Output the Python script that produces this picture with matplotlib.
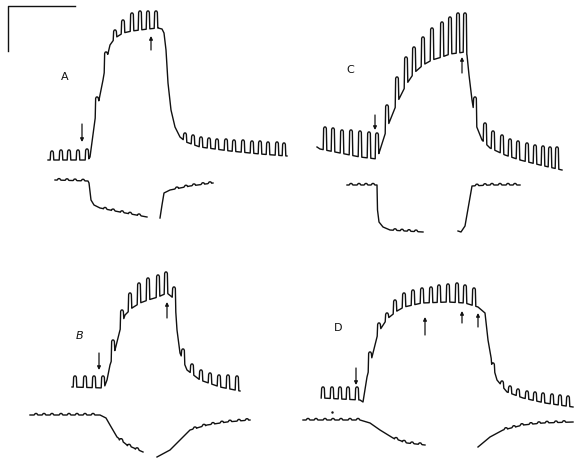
import numpy as np
import matplotlib
matplotlib.use("Agg")
import matplotlib.pyplot as plt

# ---------------- data (pixel units, y downwards) ----------------
# Panel A, upper trace
A_base_x = [48, 88, 90, 93, 96, 99, 103, 106, 110, 115, 123, 132, 140, 148, 158, 162, 164, 166, 168, 171, 175, 180, 186, 200, 230, 260, 287]
A_base_y = [160, 160, 157, 135, 112, 100, 80, 62, 45, 38, 33, 31, 30, 29, 28, 29, 33, 50, 83, 110, 127, 137, 142, 147, 151, 154, 156]
A_spk_x = [52, 61, 69, 78, 87, 97, 106, 115, 123, 132, 140, 148, 156,
           185, 193, 201, 209, 217, 226, 234, 243, 252, 260, 268, 277, 284]
A_spk_y = [151, 150, 150, 150, 149, 97, 52, 30, 20, 13, 11, 11, 11,
           133, 135, 137, 138, 139, 139, 140, 140, 141, 141, 142, 142, 143]
# Panel A, lower trace (two pieces)
A_low1_x = [55, 88, 89, 91, 94, 100, 120, 147]
A_low1_y = [180, 181, 183, 200, 205, 208, 212, 217]
A_low2_x = [160, 162, 164, 170, 190, 213]
A_low2_y = [218, 205, 193, 190, 186, 183]
A_rip_x = [59, 67, 75, 83, 105, 113, 122, 130, 139, 146, 177, 186, 194, 203, 210]

# Panel C, upper trace
C_base_x = [317, 320, 340, 360, 377, 380, 387, 397, 406, 414, 423, 432, 442, 450, 458, 465, 467, 469, 472, 476, 482, 490, 505, 520, 540, 562]
C_base_y = [147, 149, 153, 157, 159, 150, 128, 103, 85, 73, 65, 60, 57, 54, 53, 52, 55, 75, 100, 125, 140, 148, 155, 160, 165, 170]
C_spk_x = [325, 333, 342, 351, 360, 369, 377, 387, 397, 406, 414, 423, 432, 442, 450, 458, 465,
           475, 485, 493, 502, 510, 518, 527, 535, 543, 550, 557]
C_spk_y = [127, 128, 130, 130, 131, 132, 133, 105, 77, 57, 47, 37, 28, 22, 17, 13, 13,
           97, 123, 131, 135, 139, 141, 143, 145, 146, 147, 147]
C_low1_x = [347, 377, 377.5, 379, 383, 390, 405, 423]
C_low1_y = [185, 185, 210, 222, 227, 230, 231, 232]
C_low2_x = [458, 461, 465, 472, 490, 520]
C_low2_y = [231, 232, 226, 186, 185, 185]
C_rip_x = [351, 359, 366, 373, 395, 402, 409, 416, 477, 485, 492, 500, 508, 515]

# Panel B, upper trace
B_base_x = [72, 104, 107, 110, 115, 120, 125, 132, 140, 148, 158, 167, 172, 175, 177, 180, 187, 200, 220, 240]
B_base_y = [387, 388, 380, 365, 350, 330, 315, 308, 303, 300, 297, 293, 297, 300, 330, 353, 370, 380, 387, 391]
B_spk_x = [75, 85, 94, 103, 113, 122, 130, 139, 148, 158, 166, 174,
           183, 192, 201, 210, 219, 228, 237]
B_spk_y = [376, 376, 376, 376, 340, 310, 293, 283, 278, 275, 272, 287,
           349, 364, 370, 373, 375, 375, 376]
B_low1_x = [30, 100, 106, 110, 117, 127, 143]
B_low1_y = [415, 415, 418, 425, 437, 445, 452]
B_low2_x = [157, 170, 180, 190, 207, 227, 250]
B_low2_y = [457, 450, 440, 430, 425, 422, 420]
B_rip_x = [36, 44, 52, 61, 69, 77, 85, 93, 121, 129, 137, 195, 204, 213, 222, 230, 239, 247]

# Panel D, upper trace
D_base_x = [322, 360, 363, 367, 372, 378, 387, 397, 404, 422, 448, 465, 478, 485, 488, 492, 497, 507, 523, 545, 573]
D_base_y = [398, 400, 402, 377, 357, 333, 319, 311, 307, 303, 302, 303, 307, 313, 340, 363, 380, 392, 398, 403, 407]
D_spk_x = [323, 332, 340, 348, 357, 370, 379, 387, 395, 404, 413, 422, 431, 439, 448, 457, 465, 474,
           493, 502, 510, 518, 527, 535, 543, 552, 560, 568]
D_spk_y = [387, 387, 387, 387, 387, 352, 323, 313, 300, 293, 290, 288, 287, 285, 284, 283, 285, 288,
           363, 381, 386, 389, 391, 392, 393, 394, 395, 396]
D_low1_x = [303, 360, 370, 380, 393, 407, 425]
D_low1_y = [420, 420, 423, 430, 438, 443, 445]
D_low2_x = [478, 490, 503, 523, 543, 573]
D_low2_y = [447, 437, 430, 425, 423, 422]
D_rip_x = [308, 316, 325, 333, 341, 350, 358, 396, 404, 412, 420, 506, 514, 522, 531, 539, 547, 556, 564]

# arrows: (x, tail_y, head_y)
arrows_x = [82, 151, 375, 462, 99, 167, 356, 425, 462, 478]
arrows_tail = [124, 50, 115, 73, 353, 318, 368, 335, 323, 327]
arrows_head = [142, 36, 130, 57, 370, 302, 385, 317, 311, 313]

# panel labels
labels = ["A", "C", "B", "D"]
labels_x = [65, 350, 80, 338]
labels_y = [77, 70, 336, 328]
labels_style = ["normal", "normal", "italic", "normal"]

# scale bar corner points
bar_x = [8, 8, 75]
bar_y = [51, 6, 6]


# ---------------- drawing helpers ----------------
def merge_spikes(bx, by, sx, sy, half=1.8):
    bx = np.asarray(bx, float)
    by = np.asarray(by, float)
    pts = []
    for x, p in zip(sx, sy):
        b0 = np.interp(x - half, bx, by)
        b1 = np.interp(x + half, bx, by)
        pts += [(x - half, b0), (x - half * 0.75, p + 1.3), (x - half * 0.35, p),
                (x + half * 0.35, p), (x + half * 0.75, p + 1.3), (x + half, b1)]
    for x, y in zip(bx, by):
        if not any(abs(x - s) <= half for s in sx):
            pts.append((x, y))
    pts.sort(key=lambda t: t[0])
    return [p[0] for p in pts], [p[1] for p in pts]


def ripples(bx, by, rx, amp=1.5, half=2.2):
    bx = np.asarray(bx, float)
    by = np.asarray(by, float)
    rx = [r for r in rx if bx[0] + half <= r <= bx[-1] - half]
    ry = [np.interp(r, bx, by) - amp for r in rx]
    return merge_spikes(bx, by, rx, ry, half=half)


fig = plt.figure(figsize=(5.74, 4.61), dpi=100)
ax = fig.add_axes([0, 0, 1, 1])
ax.set_xlim(0, 574)
ax.set_ylim(461, 0)
ax.axis("off")

lw = 1.0
col = "#111111"

for bx, by, sx, sy in [(A_base_x, A_base_y, A_spk_x, A_spk_y),
                       (C_base_x, C_base_y, C_spk_x, C_spk_y),
                       (B_base_x, B_base_y, B_spk_x, B_spk_y),
                       (D_base_x, D_base_y, D_spk_x, D_spk_y)]:
    x, y = merge_spikes(bx, by, sx, sy)
    ax.plot(x, y, color=col, lw=lw, solid_joinstyle="round")

for (bx, by), rx in [((A_low1_x, A_low1_y), A_rip_x), ((A_low2_x, A_low2_y), A_rip_x),
                     ((C_low1_x, C_low1_y), C_rip_x), ((C_low2_x, C_low2_y), C_rip_x),
                     ((B_low1_x, B_low1_y), B_rip_x), ((B_low2_x, B_low2_y), B_rip_x),
                     ((D_low1_x, D_low1_y), D_rip_x), ((D_low2_x, D_low2_y), D_rip_x)]:
    x, y = ripples(bx, by, rx)
    ax.plot(x, y, color=col, lw=lw, solid_joinstyle="round")

for x, t, h in zip(arrows_x, arrows_tail, arrows_head):
    ax.annotate("", xy=(x, h), xytext=(x, t),
                arrowprops=dict(arrowstyle="-|>", lw=0.9, color=col,
                                mutation_scale=5, shrinkA=0, shrinkB=0))

for s, x, y, st in zip(labels, labels_x, labels_y, labels_style):
    ax.text(x, y, s, fontsize=8, ha="center", va="center", style=st,
            family="DejaVu Sans", color=col)

ax.plot(bar_x, bar_y, color=col, lw=1.0)
ax.plot([332], [412], marker=".", ms=1.5, color=col)

fig.savefig("out.png", dpi=100, facecolor="white")
